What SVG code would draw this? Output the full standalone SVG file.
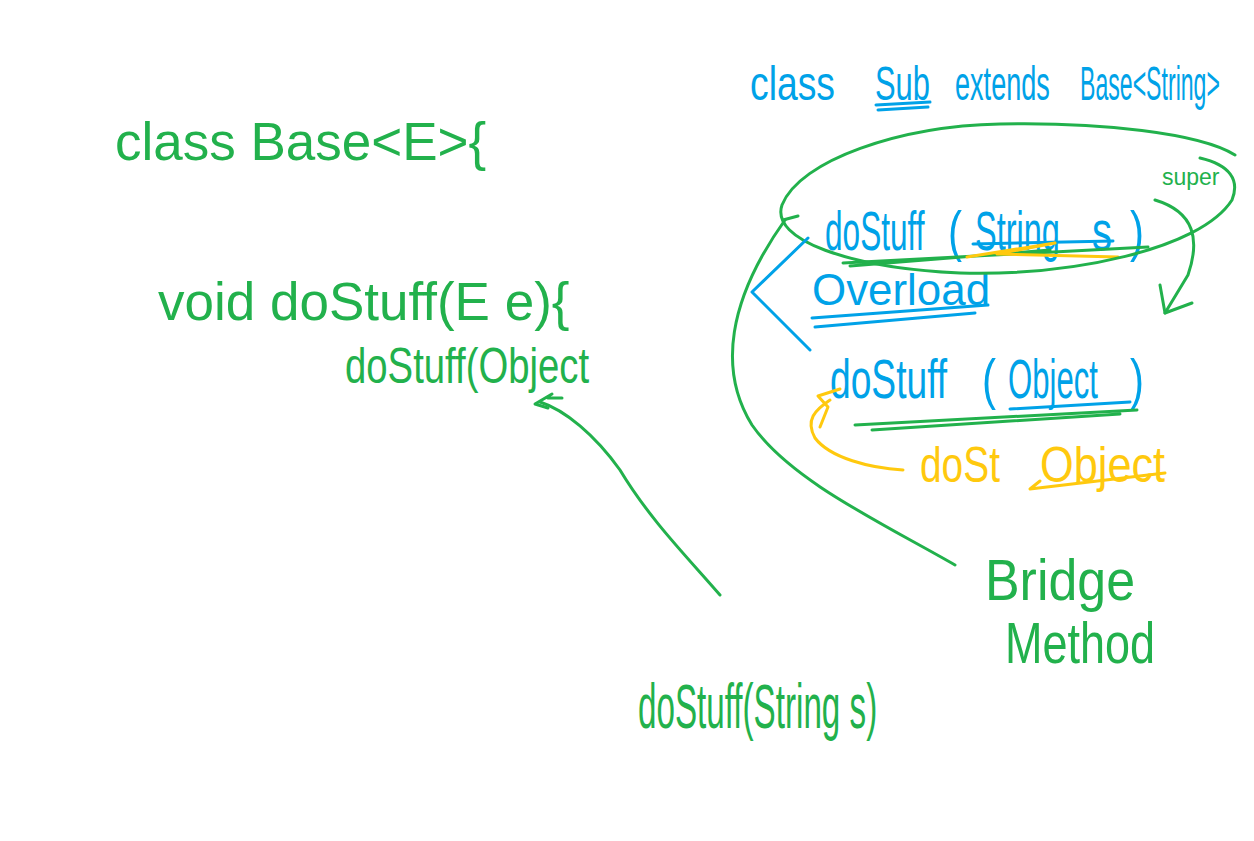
<svg xmlns="http://www.w3.org/2000/svg" width="1254" height="841" viewBox="0 0 1254 841">
<style>
  text { font-family: "Liberation Sans", Arial, sans-serif; }
  .g { fill: #22b14c; }
  .b { fill: #00a2e8; }
  .y { fill: #ffc90e; }
  .sg { fill: none; stroke: #22b14c; stroke-width: 3; stroke-linecap: round; stroke-linejoin: round; }
  .sb { fill: none; stroke: #00a2e8; stroke-width: 3; stroke-linecap: round; stroke-linejoin: round; }
  .sy { fill: none; stroke: #ffc90e; stroke-width: 3; stroke-linecap: round; stroke-linejoin: round; }
</style>
<rect width="1254" height="841" fill="#ffffff"/>

<g id="base-class">
  <text class="g" x="115" y="160" font-size="53">class  Base&lt;E&gt;{</text>
  <text class="g" x="158" y="320" font-size="53">void doStuff(E e){</text>
  <text class="g" transform="translate(345,383) scale(1,1.3)" font-size="38.3">doStuff(Object</text>
</g>

<g id="sub-class">
  <text class="b" transform="translate(750,100) scale(1,1.29)" font-size="37.3">class</text>
  <text class="b" transform="translate(875,100) scale(1,1.55)" font-size="30.9">Sub</text>
  <text class="b" transform="translate(955,100) scale(1,1.77)" font-size="27.1">extends</text>
  <text class="b" transform="translate(1080,100) scale(1,2.08)" font-size="23.1">Base&lt;String&gt;</text>
  <path class="sb" d="M876,105 L930,102 M878,110 L928,107"/>
</g>

<g id="overload-group">
  <text class="b" transform="translate(825,250) scale(1,1.77)" font-size="31.6">doStuff</text>
  <text class="b" transform="translate(948,250) scale(1,1.33)" font-size="42">(</text>
  <text class="b" transform="translate(975,250) scale(1,1.72)" font-size="32.5">String</text>
  <text class="b" transform="translate(1092,250) scale(1,1.4)" font-size="40">s</text>
  <text class="b" transform="translate(1130,250) scale(1,1.33)" font-size="42">)</text>
  <text class="b" x="812" y="305" font-size="43.9">Overload</text>
  <path class="sb" d="M812,318 L988,305 M815,327 L975,313"/>
  <text class="b" transform="translate(830,398) scale(1,1.5)" font-size="37.2">doStuff</text>
  <text class="b" transform="translate(982,398) scale(1,1.33)" font-size="42">(</text>
  <text class="b" transform="translate(1008,398) scale(1,1.8)" font-size="31.1">Object</text>
  <text class="b" transform="translate(1130,398) scale(1,1.33)" font-size="42">)</text>
  <path class="sb" d="M973,244 L1113,241"/>
  <path class="sg" d="M843,263 L1148,247 M850,266 L1050,250"/>
  <path class="sy" d="M967,257 L1055,243 L997,254 L1118,257"/>
  <path class="sb" d="M1010,409 L1130,402"/>
  <path class="sg" d="M855,425 L1137,410 M872,430 L1120,414"/>
</g>

<g id="bridge-call">
  <text class="y" transform="translate(920,482) scale(1,1.29)" font-size="38.9">doSt</text>
  <text class="y" transform="translate(1040,482) scale(1,1.15)" font-size="43.3">Object</text>
</g>

<g id="super-label">
  <text class="g" x="1162" y="185" font-size="23">super</text>
</g>

<g id="bridge-method">
  <text class="g" transform="translate(985,600) scale(1,1.12)" font-size="51.9">Bridge</text>
  <text class="g" transform="translate(1005,663) scale(1,1.29)" font-size="45">Method</text>
</g>

<g id="string-call">
  <text class="g" transform="translate(638,728) scale(1,1.87)" font-size="33.2">doStuff(String s)</text>
</g>

<g id="connectors">
  <!-- ellipse around doStuff(String s) -->
  <path class="sg" d="M1235,155 C1200,133 1100,122 1000,124 C900,126 800,160 782,205 C770,240 850,268 960,273 C1070,276 1200,250 1232,200 C1240,180 1230,165 1200,158"/>
  <!-- bridge method arrow -->
  <path class="sg" d="M955,565 C880,522 790,480 752,425 C718,370 728,300 785,220"/>
  <path class="sg" d="M783,220 L798,216"/>
  <!-- super arrow -->
  <path class="sg" d="M1155,200 C1195,212 1200,240 1188,275 L1165,313"/>
  <path class="sg" d="M1160,285 L1165,313 L1192,303"/>
  <!-- overload bracket -->
  <path class="sb" d="M808,238 L752,292 L810,350"/>
  <!-- yellow bridge-call arrow -->
  <path class="sy" d="M903,470 C870,468 830,458 815,438 C805,420 815,410 830,400"/>
  <path class="sy" d="M840,389 L818,396 L828,407 L820,427"/>
  <path class="sy" d="M1165,473 L1030,489 L1040,481"/>
  <!-- doStuff(String s) to Base doStuff(Object arrow -->
  <path class="sg" d="M720,595 C690,560 650,520 620,470 C595,435 565,410 540,402"/>
  <path class="sg" d="M552,394 L535,404 L548,408 M548,398 L562,398"/>
</g>
</svg>
